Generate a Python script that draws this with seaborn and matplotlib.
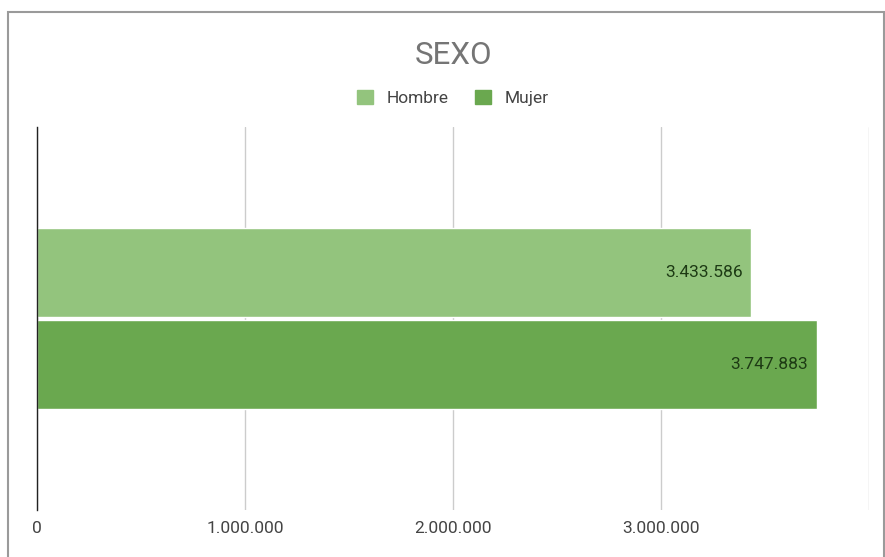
import pandas as pd
import matplotlib.pyplot as plt
import matplotlib.ticker as mticker
from matplotlib.patches import Rectangle
import seaborn as sns

# data
sexo = ['Hombre', 'Mujer']
poblacion = [3433586, 3747883]
colores = ['#93c47d', '#6aa84f']
ticks = [0, 1000000, 2000000, 3000000, 4000000]

df = pd.DataFrame({'grupo': ['SEXO'] * len(sexo), 'sexo': sexo, 'poblacion': poblacion})

sns.set_style('white')
plt.rcParams['font.family'] = ['Roboto', 'DejaVu Sans']

fig = plt.figure(figsize=(8.85, 5.57), dpi=100)
ax = fig.add_axes([37 / 885, 1 - 510 / 557, (869 - 37) / 885, (510 - 127) / 557])

sns.barplot(data=df, x='poblacion', y='grupo', hue='sexo', palette=colores,
            orient='h', width=0.48, gap=0.03, saturation=1, ax=ax, legend=False)

def miles(v, pos=None):
    return f'{int(round(v)):,}'.replace(',', '.')

for cont in ax.containers:
    etiquetas = ax.bar_label(cont, labels=[miles(b.get_width()) for b in cont],
                             label_type='edge', padding=-6, fontsize=12.5, color='#1d3a14')
    for t in etiquetas:
        t.set_ha('right')

ax.set_xlim(0, 4000000)
ax.set_xticks(ticks)
ax.xaxis.set_major_formatter(mticker.FuncFormatter(lambda v, p: '' if v >= 4000000 else miles(v)))
ax.tick_params(axis='x', length=0, labelsize=12.5, labelcolor='#444444', pad=8)
ax.set_yticks([])
ax.set_xlabel('')
ax.set_ylabel('')
ax.grid(axis='x', color='#cccccc', linewidth=1)
ax.set_axisbelow(True)
for s in ['top', 'right', 'bottom']:
    ax.spines[s].set_visible(False)
ax.spines['left'].set_color('#222222')
ax.spines['left'].set_linewidth(1)

# title and legend
fig.text(454 / 885, 1 - 55 / 557, 'SEXO', ha='center', va='center', fontsize=22.5, color='#757575')
handles = [Rectangle((0, 0), 1, 1, color=c) for c in colores]
fig.legend(handles, sexo, loc='center', bbox_to_anchor=(453 / 885, 1 - 98 / 557), ncol=2,
           frameon=False, fontsize=12.5, handlelength=0.9, handleheight=0.9,
           columnspacing=1.5, handletextpad=0.8, labelcolor='#444444')

# outer frame
fig.patches.append(Rectangle((8 / 885, -0.01), (884 - 8) / 885, 1 - 12 / 557 + 0.01,
                             transform=fig.transFigure, fill=False, edgecolor='#9a9a9a',
                             linewidth=1.5))

fig.savefig('out.png', dpi=100)
